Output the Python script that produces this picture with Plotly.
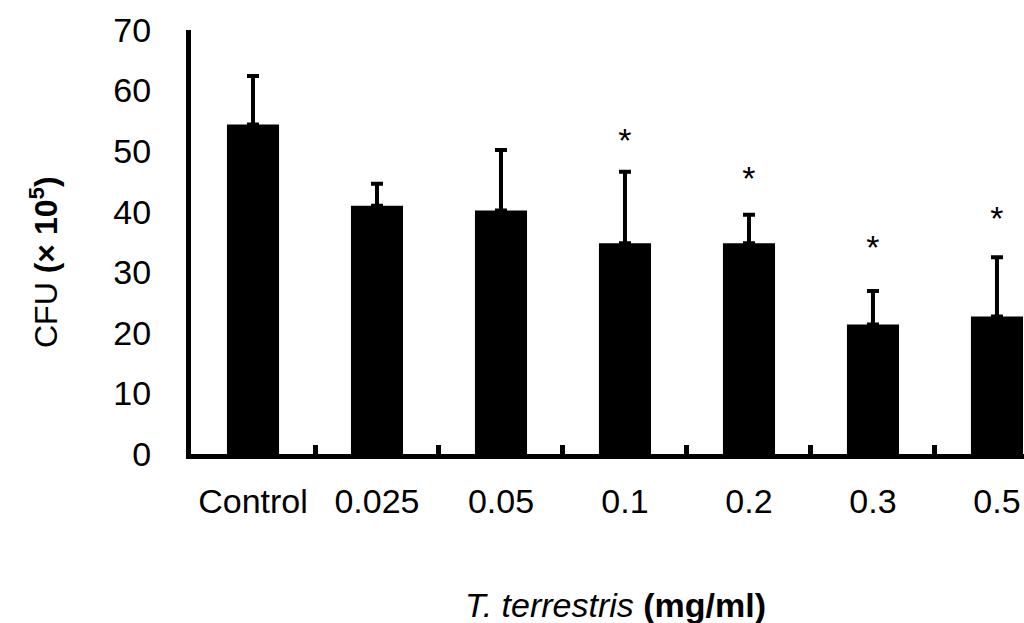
import plotly.graph_objects as go

categories = ["Control", "0.025", "0.05", "0.1", "0.2", "0.3", "0.5"]
cfu_mean = [54.4, 41.0, 40.2, 34.8, 34.8, 21.4, 22.7]
cfu_err_up = [8.0, 3.6, 10.0, 11.8, 4.7, 5.5, 9.8]
star_categories = ["0.1", "0.2", "0.3", "0.5"]
star_levels = [51.2, 45.0, 33.6, 38.4]

FONT = "Liberation Sans, Arial, sans-serif"

fig = go.Figure()
fig.add_trace(go.Bar(
    x=categories, y=cfu_mean, width=0.42,
    marker=dict(color="black", line=dict(width=0)),
    error_y=dict(type="data", array=cfu_err_up, arrayminus=[0]*len(categories),
                 symmetric=False, color="black", thickness=4, width=6),
    showlegend=False,
))
fig.add_trace(go.Scatter(
    x=star_categories, y=star_levels, mode="text", text=["*"]*len(star_categories),
    textfont=dict(family=FONT, size=34, color="black"), textposition="middle center",
    showlegend=False, cliponaxis=False,
))

fig.update_layout(
    width=1024, height=623,
    margin=dict(l=191, r=0, t=30, b=169, autoexpand=False),
    plot_bgcolor="white", paper_bgcolor="white",
    font=dict(family=FONT, color="black", size=34),
    xaxis=dict(
        type="category", range=[-0.5, 6.218], automargin=False,
        showline=True, linecolor="black", linewidth=5,
        ticks="inside", tickson="boundaries", ticklen=9, tickwidth=5, tickcolor="black",
        tickfont=dict(size=34), tickangle=0, ticklabelstandoff=13,
        showgrid=False, zeroline=False,
    ),
    yaxis=dict(
        range=[0, 70], tickvals=[0, 10, 20, 30, 40, 50, 60, 70], automargin=False,
        showline=True, linecolor="black", linewidth=5,
        ticks="", tickfont=dict(size=34), ticklabelstandoff=28,
        showgrid=False, zeroline=False,
    ),
    annotations=[
        dict(text="<i>T. terrestris</i> <b>(mg/ml)</b>", xref="paper", yref="paper",
             x=(615 - 191) / 833, y=-(605 - 454) / 424, xanchor="center", yanchor="middle",
             showarrow=False, font=dict(size=34)),
        dict(text="CFU <b>(× 10<sup>5</sup>)</b>", xref="paper", yref="paper",
             x=-(191 - 44) / 833, y=(454 - 262) / 424, xanchor="center", yanchor="middle",
             textangle=-90, showarrow=False, font=dict(size=32)),
    ],
)

fig.write_html("out.html", config={"displayModeBar": False},
               post_script="document.body.style.margin='0px';document.body.style.padding='0px';")
